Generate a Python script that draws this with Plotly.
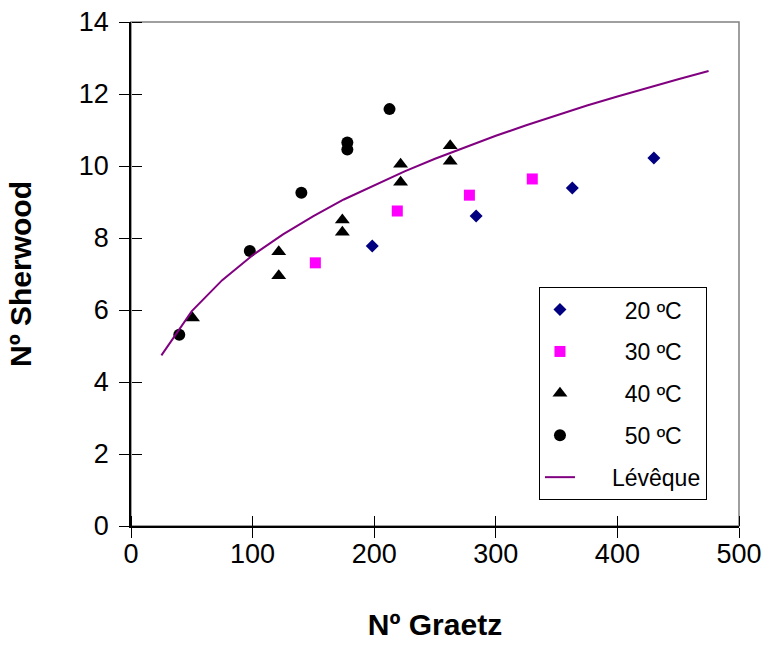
import plotly.graph_objects as go

# Graetz / Sherwood measurements by temperature
gz_20 = [198.4, 283.8, 362.9, 430.0]
sh_20 = [7.78, 8.61, 9.39, 10.22]

gz_30 = [151.6, 219.0, 278.3, 330.0]
sh_30 = [7.31, 8.75, 9.19, 9.64]

gz_40 = [50.6, 121.5, 121.5, 173.8, 173.8, 221.7, 221.7, 262.5, 262.5]
sh_40 = [5.78, 7.62, 6.95, 8.50, 8.16, 10.05, 9.55, 10.56, 10.13]

gz_50 = [39.7, 97.7, 140.1, 177.9, 177.9, 212.6]
sh_50 = [5.31, 7.64, 9.26, 10.65, 10.46, 11.58]

# Lévêque correlation curve
gz_lev = [25, 50, 75, 100, 125, 150, 175, 200, 225, 250, 275, 300,
          325, 350, 375, 400, 425, 450, 475]
sh_lev = [4.74, 5.97, 6.83, 7.52, 8.10, 8.61, 9.07, 9.47, 9.85, 10.20,
          10.53, 10.84, 11.13, 11.41, 11.68, 11.93, 12.18, 12.41, 12.64]

x_ticks = [0, 100, 200, 300, 400, 500]
y_ticks = [0, 2, 4, 6, 8, 10, 12, 14]

NB = "\u00a0"
FONT = "Liberation Sans, Arial, sans-serif"

fig = go.Figure()
fig.add_trace(go.Scatter(x=gz_20, y=sh_20, mode="markers", name=NB * 7 + "20 ºC",
                         legendgroup="a",
                         marker=dict(symbol="diamond", size=10, color="#000080")))
fig.add_trace(go.Scatter(x=gz_30, y=sh_30, mode="markers", name=NB * 7 + "30 ºC",
                         legendgroup="b",
                         marker=dict(symbol="square", size=11, color="#FF00FF")))
fig.add_trace(go.Scatter(x=gz_40, y=sh_40, mode="markers", name=NB * 7 + "40 ºC",
                         legendgroup="c",
                         marker=dict(symbol="triangle-up", size=13, color="#000000")))
fig.add_trace(go.Scatter(x=gz_50, y=sh_50, mode="markers", name=NB * 7 + "50 ºC",
                         legendgroup="d",
                         marker=dict(symbol="circle", size=12, color="#000000")))
fig.add_trace(go.Scatter(x=gz_lev, y=sh_lev, mode="lines", name=NB * 5 + "Lévêque",
                         legendgroup="e",
                         line=dict(color="#800080", width=2)))
# carrier trace for the inner tick overlay axes
fig.add_trace(go.Scatter(x=[0], y=[0], xaxis="x2", yaxis="y2", mode="markers",
                         marker=dict(opacity=0), showlegend=False, hoverinfo="skip"))

axis_common = dict(showgrid=False, zeroline=False, ticklen=10, tickwidth=1,
                   tickcolor="#000000", fixedrange=True, automargin=False)

fig.update_layout(
    width=766, height=651,
    margin=dict(l=131, r=27, t=22, b=125),
    paper_bgcolor="#FFFFFF", plot_bgcolor="#FFFFFF",
    font=dict(family=FONT, color="#000000", size=27),
    showlegend=True,
    xaxis=dict(range=[0, 500], tickvals=x_ticks, ticks="outside",
               showline=True, linecolor="#000000", linewidth=1.5,
               tickfont=dict(size=27), ticklabelstandoff=-7,
               title=dict(text="<b>Nº Graetz</b>", font=dict(size=30), standoff=46),
               **axis_common),
    yaxis=dict(range=[0, 14], tickvals=y_ticks, ticks="outside",
               showline=True, linecolor="#000000", linewidth=1.5,
               tickfont=dict(size=27), ticklabelstandoff=5,
               title=dict(text="<b>Nº Sherwood</b>", font=dict(size=30), standoff=38),
               **axis_common),
    # inward half of the crossing ticks: free axes drawn at the plot edges
    xaxis2=dict(range=[0, 500], tickvals=x_ticks, ticks="outside", overlaying="x",
                side="top", anchor="free", position=0, showticklabels=False,
                showline=False, **axis_common),
    yaxis2=dict(range=[0, 14], tickvals=y_ticks, ticks="outside", overlaying="y",
                side="right", anchor="free", position=0, showticklabels=False,
                showline=False, **axis_common),
    legend=dict(x=0.671, y=0.474, xanchor="left", yanchor="top",
                bordercolor="#000000", borderwidth=1, bgcolor="#FFFFFF",
                font=dict(size=23, family=FONT), tracegroupgap=9,
                itemwidth=30),
    shapes=[dict(type="rect", xref="paper", yref="paper", x0=0, x1=1, y0=0, y1=1,
                 line=dict(color="#808080", width=1.5), layer="below")],
)

fig.write_html("out.html")
